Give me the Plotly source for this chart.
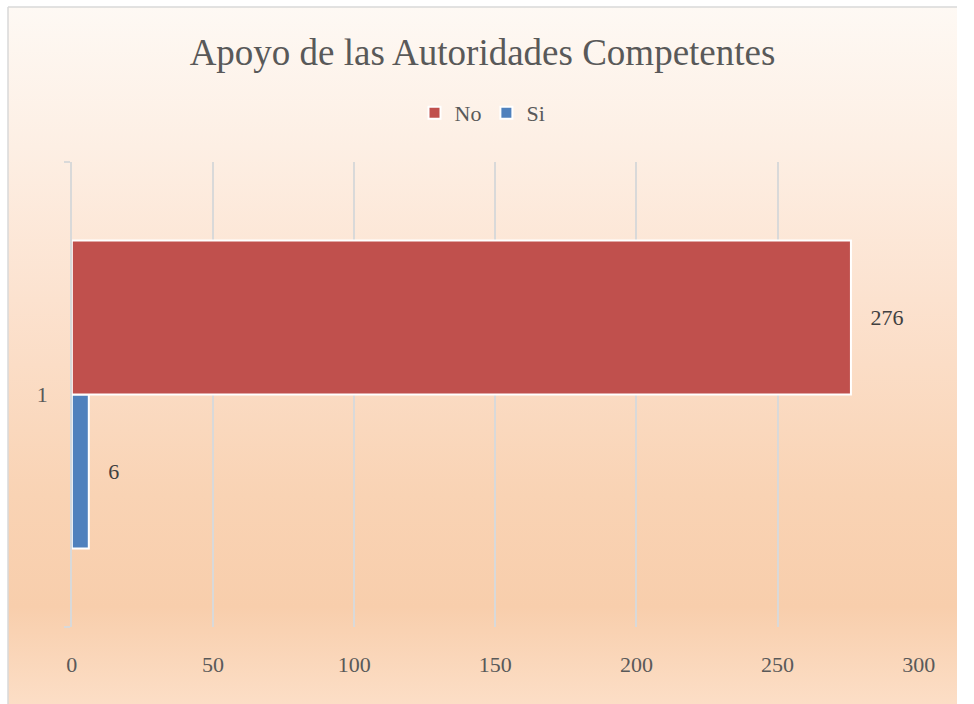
import base64
import plotly.graph_objects as go

# ---- data ----
categories = ["1"]
no_values = [276]
si_values = [6]
series_names = ["No", "Si"]
x_ticks = [0, 50, 100, 150, 200, 250, 300]

# ---- styling ----
RED = "#C0504D"
BLUE = "#4F81BD"
TXT = "#595959"
FONT = "Liberation Serif"
NB = "\u00a0"

svg = (
    "<svg xmlns='http://www.w3.org/2000/svg' width='100' height='100' preserveAspectRatio='none'>"
    "<defs><linearGradient id='g' x1='0' y1='0' x2='0' y2='1'>"
    "<stop offset='0' stop-color='#FEF9F4'/>"
    "<stop offset='0.2' stop-color='#FDEFE4'/>"
    "<stop offset='0.42' stop-color='#FCE2CF'/>"
    "<stop offset='0.7' stop-color='#F9D3B4'/>"
    "<stop offset='0.86' stop-color='#F8CEAC'/>"
    "<stop offset='1' stop-color='#FCDEC6'/>"
    "</linearGradient></defs>"
    "<rect x='0' y='0' width='100' height='100' fill='url(#g)'/></svg>"
)
svg_uri = "data:image/svg+xml;base64," + base64.b64encode(svg.encode()).decode()

fig = go.Figure()
fig.add_trace(go.Bar(
    name=series_names[1], y=categories, x=si_values, orientation="h",
    marker=dict(color=BLUE, line=dict(color="white", width=2)),
    text=si_values, texttemplate=NB * 3 + "%{x}", textposition="outside",
    textfont=dict(family=FONT, size=22, color="#404040"), cliponaxis=False,
))
fig.add_trace(go.Bar(
    name=series_names[0], y=categories, x=no_values, orientation="h",
    marker=dict(color=RED, line=dict(color="white", width=2)),
    text=no_values, texttemplate=NB * 3 + "%{x}", textposition="outside",
    textfont=dict(family=FONT, size=22, color="#404040"), cliponaxis=False,
))

W, H = 974, 704
ml, mt = 8, 7
pw, ph = W - ml, H - mt

fig.update_layout(
    width=W, height=H,
    margin=dict(l=ml, r=0, t=mt, b=0, pad=0),
    paper_bgcolor="white",
    plot_bgcolor="rgba(0,0,0,0)",
    barmode="group",
    bargap=0.338,
    bargroupgap=0,
    font=dict(family=FONT, color=TXT, size=22),
    title=dict(
        text="Apoyo de las Autoridades Competentes",
        font=dict(family=FONT, size=37, color=TXT),
        x=0.5, xref="paper", xanchor="center",
        y=1 - 52 / H, yref="container", yanchor="middle",
    ),
    legend=dict(
        orientation="h", x=0.5, xanchor="center",
        y=(H - 113) / ph, yanchor="middle",
        traceorder="reversed",
        font=dict(family=FONT, size=22, color=TXT),
        bgcolor="rgba(0,0,0,0)",
        itemwidth=30,
    ),
    xaxis=dict(
        domain=[(73 - ml) / pw, (935 - ml) / pw],
        range=[0, 300],
        tickvals=x_ticks,
        showgrid=True, gridcolor="#D9D9D9", gridwidth=1.5,
        zeroline=False, showline=False, ticks="",
        tickfont=dict(family=FONT, size=22, color=TXT),
        ticklabelstandoff=22,
        fixedrange=True,
    ),
    yaxis=dict(
        domain=[(H - 627) / ph, (H - 162) / ph],
        type="category",
        showgrid=False, zeroline=False,
        showline=True, linecolor="#D9D9D9", linewidth=1.5,
        ticks="outside", tickson="boundaries", ticklen=6,
        tickcolor="#D9D9D9", tickwidth=1.5,
        tickfont=dict(family=FONT, size=22, color=TXT),
        ticklabelstandoff=18,
        fixedrange=True,
    ),
    images=[dict(
        source=svg_uri, xref="paper", yref="paper",
        x=0, y=1, sizex=1, sizey=1, xanchor="left", yanchor="top",
        sizing="stretch", layer="below",
    )],
    shapes=[
        dict(type="line", xref="paper", yref="paper", x0=0, x1=0, y0=0, y1=1,
             line=dict(color="#D9D9D9", width=1.5)),
        dict(type="line", xref="paper", yref="paper", x0=0, x1=1, y0=1, y1=1,
             line=dict(color="#D9D9D9", width=1.5)),
    ],
    showlegend=True,
)

post = (
    "document.body.style.margin='0';document.body.style.padding='0';"
    "document.documentElement.style.overflow='hidden';"
    "document.body.style.overflow='hidden';"
    "var gd=document.getElementById('{plot_id}');"
    "var w=document.documentElement.clientWidth||window.innerWidth;"
    "if(w && Math.abs(w-gd.layout.width)>1){Plotly.relayout(gd,{width:w});}"
)

fig.write_html(
    "out.html",
    config={"displayModeBar": False},
    post_script=post,
)
